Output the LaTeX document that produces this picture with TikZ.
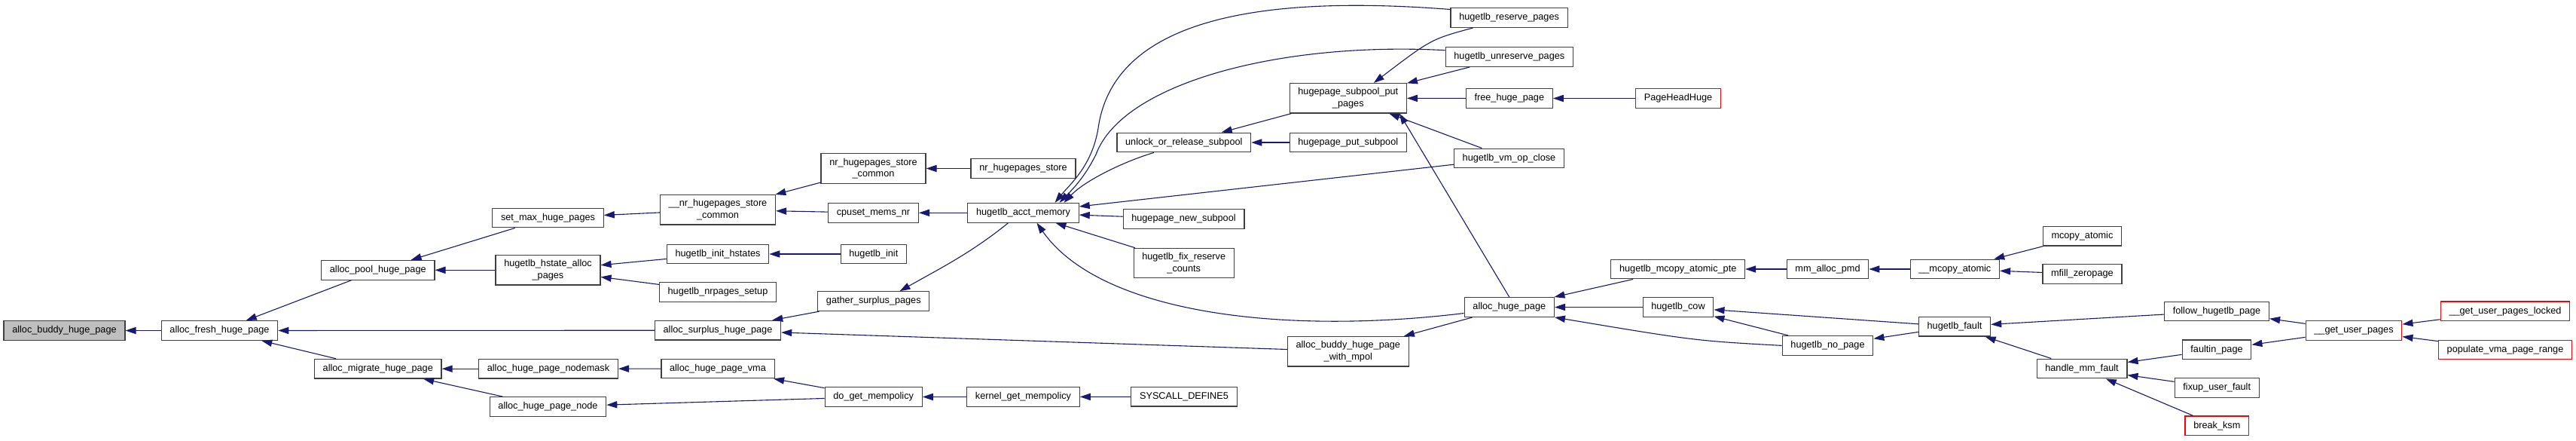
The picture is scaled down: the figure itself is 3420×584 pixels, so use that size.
\documentclass[tikz,border=0pt]{standalone}
\usepackage{fontspec}
\setmainfont{Liberation Sans}
\usetikzlibrary{arrows.meta, positioning}
\definecolor{edgeblue}{RGB}{25, 25, 112}
\definecolor{boxline}{RGB}{64, 64, 64}
\definecolor{focusgray}{RGB}{191, 191, 191}
\definecolor{extred}{RGB}{255, 0, 0}
\tikzset{
    fn/.style={rectangle, draw=boxline, fill=white, text=black, line width=0.6pt, minimum height=12.85pt, inner xsep=5.6pt, inner ysep=3pt, align=center, font=\fontsize{6.35}{7.8}\selectfont},
    focus/.style={fn, fill=focusgray},
    extfn/.style={fn, draw=extred},
    call/.style={-{Triangle[length=7pt, width=4.6pt]}, edgeblue, line width=0.55pt}
}
\begin{document}
\begin{tikzpicture}[x=0.5pt, y=-0.5pt]
            \useasboundingbox [fill=white] (0,0) rectangle (3420,584);

            \node (buddy) [focus] at (85.5,438.5) {alloc\_buddy\_huge\_page};
            \node (fresh) [fn] at (291.5,438.5) {alloc\_fresh\_huge\_page};
            \node (pool) [fn] at (501.8,358.3) {alloc\_pool\_huge\_page};
            \node (migrate) [fn] at (501.8,489.2) {alloc\_migrate\_huge\_page};
            \node (setmax) [fn] at (727.5,289) {set\_max\_huge\_pages};
            \node (hsalloc) [fn] at (727.5,358.3) {hugetlb\_hstate\_alloc\\\_pages};
            \node (nodemask) [fn] at (728,489.2) {alloc\_huge\_page\_nodemask};
            \node (hpnode) [fn] at (727.5,539.5) {alloc\_huge\_page\_node};
            \node (nrcommonu) [fn] at (953,278.3) {\_\_nr\_hugepages\_store\\\_common};
            \node (hsinit) [fn] at (953,337) {hugetlb\_init\_hstates};
            \node (nrsetup) [fn] at (953,387.5) {hugetlb\_nrpages\_setup};
            \node (surplus) [fn] at (953,438.2) {alloc\_surplus\_huge\_page};
            \node (hpvma) [fn] at (953,489) {alloc\_huge\_page\_vma};
            \node (nrcommon) [fn] at (1159.5,223.5) {nr\_hugepages\_store\\\_common};
            \node (cpuset) [fn] at (1159.5,282.3) {cpuset\_mems\_nr};
            \node (hinit) [fn] at (1159.8,337) {hugetlb\_init};
            \node (gather) [fn] at (1159.8,399.7) {gather\_surplus\_pages};
            \node (dogetmp) [fn] at (1159.7,526.5) {do\_get\_mempolicy};
            \node (nrstore) [fn] at (1358.5,223.5) {nr\_hugepages\_store};
            \node (acct) [fn] at (1358.5,282.3) {hugetlb\_acct\_memory};
            \node (kgetmp) [fn] at (1358.5,526.5) {kernel\_get\_mempolicy};
            \node (unlock) [fn] at (1571.8,189) {unlock\_or\_release\_subpool};
            \node (newsub) [fn] at (1571.5,290.3) {hugepage\_new\_subpool};
            \node (fixres) [fn] at (1571.7,349) {hugetlb\_fix\_reserve\\\_counts};
            \node (syscall) [fn] at (1572,526.2) {SYSCALL\_DEFINE5};
            \node (subput) [fn] at (1789.8,130.3) {hugepage\_subpool\_put\\\_pages};
            \node (putsub) [fn] at (1789.8,189) {hugepage\_put\_subpool};
            \node (budmpol) [fn] at (1789.8,466.2) {alloc\_buddy\_huge\_page\\\_with\_mpol};
            \node (reserve) [fn] at (2003.6,23.5) {hugetlb\_reserve\_pages};
            \node (unreserve) [fn] at (2003.8,75.5) {hugetlb\_unreserve\_pages};
            \node (freehp) [fn] at (2003.8,130.5) {free\_huge\_page};
            \node (vmclose) [fn] at (2003.5,210) {hugetlb\_vm\_op\_close};
            \node (allochp) [fn] at (2003.8,407.5) {alloc\_huge\_page};
            \node (headhuge) [extfn] at (2228,130.5) {PageHeadHuge};
            \node (mcopypte) [fn] at (2227.7,357) {hugetlb\_mcopy\_atomic\_pte};
            \node (cow) [fn] at (2228,407.5) {hugetlb\_cow};
            \node (pmd) [fn] at (2426.5,357) {mm\_alloc\_pmd};
            \node (nopage) [fn] at (2426.5,458.4) {hugetlb\_no\_page};
            \node (mcopyu) [fn] at (2595.3,357) {\_\_mcopy\_atomic};
            \node (fault) [fn] at (2595,433.2) {hugetlb\_fault};
            \node (mcopy) [fn] at (2764.4,313.2) {mcopy\_atomic};
            \node (mfill) [fn] at (2764.4,363.5) {mfill\_zeropage};
            \node (handlemm) [fn] at (2764,489) {handle\_mm\_fault};
            \node (followhp) [fn] at (2943,413) {follow\_hugetlb\_page};
            \node (faultin) [fn] at (2943,463.8) {faultin\_page};
            \node (fixup) [fn] at (2943.2,514.3) {fixup\_user\_fault};
            \node (ksm) [extfn] at (2943.3,564.8) {break\_ksm};
            \node (gup) [extfn] at (3125,438.3) {\_\_get\_user\_pages};
            \node (guplocked) [extfn] at (3326,412.8) {\_\_get\_user\_pages\_locked};
            \node (populate) [extfn] at (3326,464) {populate\_vma\_page\_range};

            \draw [call] (fresh) -- (buddy);
            \draw [call] (pool) -- (fresh);
            \draw [call] (surplus) -- (fresh);
            \draw [call] (migrate) -- (fresh);
            \draw [call] (setmax) -- (pool);
            \draw [call] (hsalloc) -- (pool);
            \draw [call] (nrcommonu) -- (setmax);
            \draw [call] (hsinit) -- (hsalloc);
            \draw [call] (nrsetup) -- (hsalloc);
            \draw [call] (nodemask) -- (migrate);
            \draw [call] (hpnode) -- (migrate);
            \draw [call] (nrcommon) -- (nrcommonu);
            \draw [call] (cpuset) -- (nrcommonu);
            \draw [call] (hinit) -- (hsinit);
            \draw [call] (gather) -- (surplus);
            \draw [call] (budmpol) -- (surplus);
            \draw [call] (hpvma) -- (nodemask);
            \draw [call] (dogetmp) -- (hpvma);
            \draw [call] (dogetmp) -- (hpnode);
            \draw [call] (nrstore) -- (nrcommon);
            \draw [call] (acct) -- (cpuset);
            \draw [call] (kgetmp) -- (dogetmp);
            \draw [call] (syscall) -- (kgetmp);
            \draw [call] ([xshift=-10pt]acct.south) .. controls (1290,335) and (1250,355) .. ([xshift=-20pt]gather.north east);
            \draw [call] ([yshift=5.5pt]reserve.west) .. controls (1700,-5) and (1480,15) .. (1458,170) .. controls (1450,220) and (1420,245) .. ([xshift=21pt]acct.north);
            \draw [call] ([yshift=4.4pt]unreserve.west) .. controls (1700,55) and (1490,110) .. (1455,205) .. controls (1440,235) and (1425,250) .. ([xshift=24pt]acct.north);
            \draw [call] ([xshift=-20pt]unlock.south) .. controls (1490,215) and (1440,240) .. ([xshift=27pt]acct.north);
            \draw [call] (vmclose) -- (acct);
            \draw [call] (newsub) -- (acct);
            \draw [call] (fixres) -- (acct);
            \draw [call] ([yshift=-4pt]allochp.west) .. controls (1700,445) and (1460,415) .. ([xshift=9pt]acct.south);
            \draw [call] (subput) -- (unlock);
            \draw [call] (putsub) -- (unlock);
            \draw [call] ([xshift=-24pt]reserve.south) .. controls (1900,52) .. ([xshift=17pt]subput.north);
            \draw [call] (unreserve) -- (subput);
            \draw [call] (freehp) -- (subput);
            \draw [call] (vmclose) -- (subput);
            \draw [call] (allochp.north) -- ([xshift=-5pt]subput.south east);
            \draw [call] (headhuge) -- (freehp);
            \draw [call] (allochp) -- (budmpol);
            \draw [call] (mcopypte) -- (allochp);
            \draw [call] (cow) -- (allochp);
            \draw [call] (nopage.west) .. controls (2250,452) .. (allochp.south east);
            \draw [call] (pmd) -- (mcopypte);
            \draw [call] (mcopyu) -- (pmd);
            \draw [call] (mcopy) -- (mcopyu);
            \draw [call] (mfill) -- (mcopyu);
            \draw [call] (fault) -- (cow);
            \draw [call] (nopage) -- (cow);
            \draw [call] (fault) -- (nopage);
            \draw [call] (followhp) -- (fault);
            \draw [call] (handlemm) -- (fault);
            \draw [call] (faultin) -- (handlemm);
            \draw [call] (fixup) -- (handlemm);
            \draw [call] (ksm) -- (handlemm);
            \draw [call] (gup) -- (followhp);
            \draw [call] (gup) -- (faultin);
            \draw [call] (guplocked) -- (gup);
            \draw [call] (populate) -- (gup);
        \end{tikzpicture}
\end{document}
